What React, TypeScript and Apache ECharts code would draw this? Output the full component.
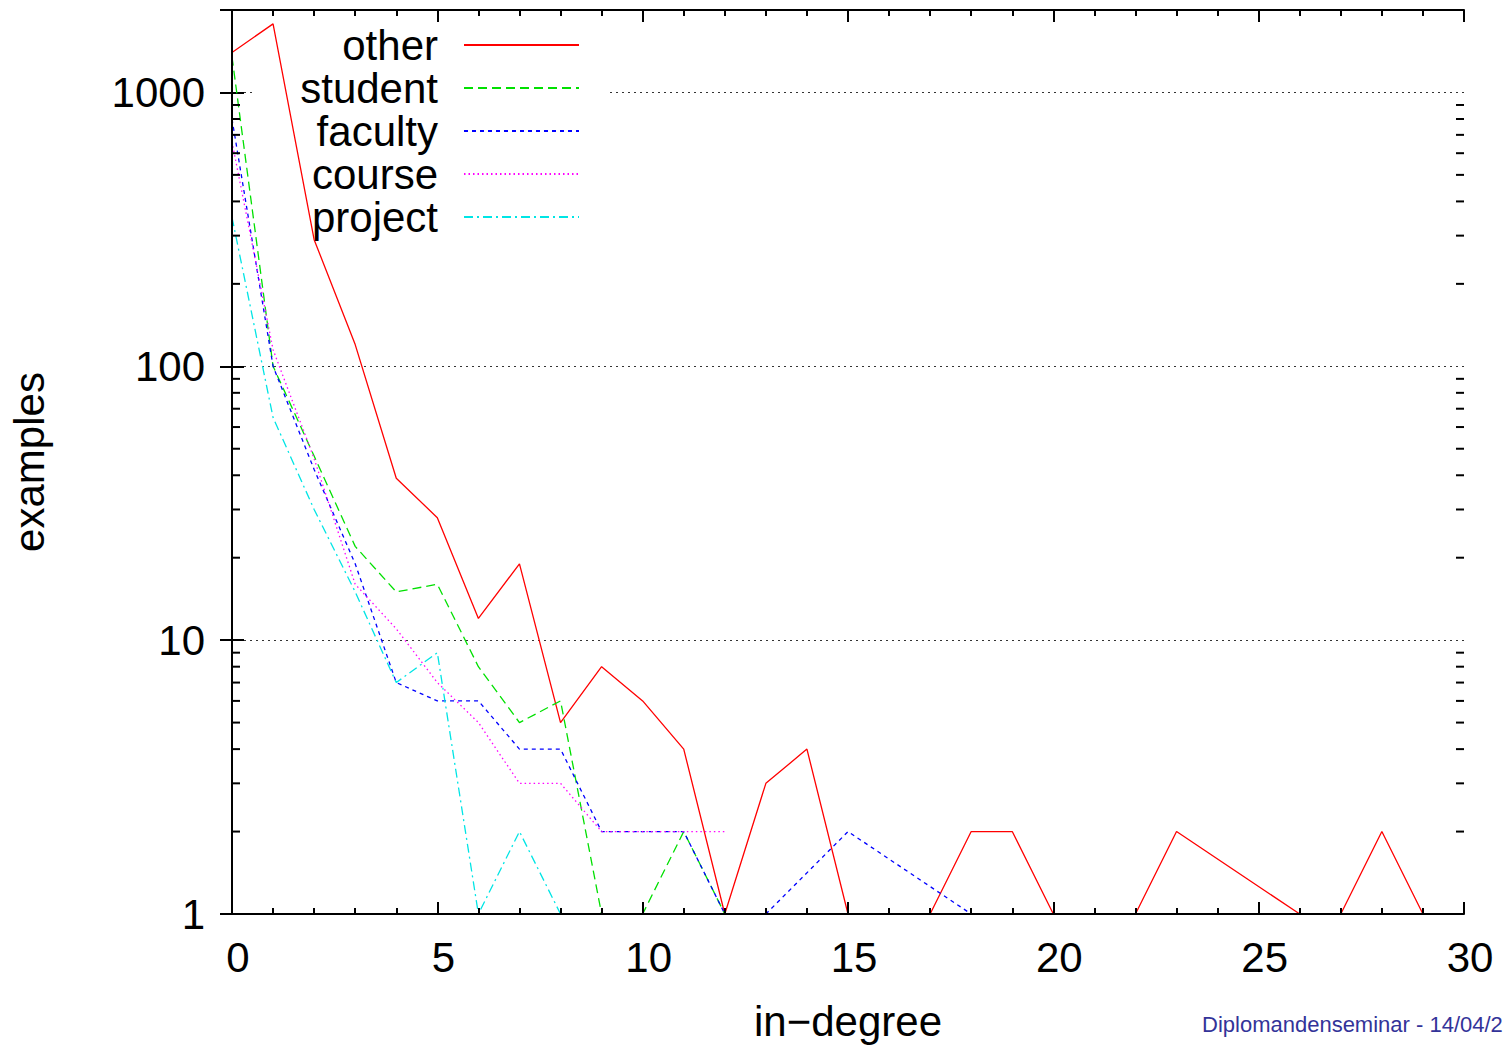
import React, { useEffect, useRef } from 'react';
import * as echarts from 'echarts';

const seriesNames = ['other', 'student', 'faculty', 'course', 'project'];
const seriesColors = ['#ff0000', '#00e000', '#0000ff', '#ff00ff', '#00e5e5'];

const otherDegree = [0, 1, 2, 3, 4, 5, 6, 7, 8, 9, 10, 11, 12, 13, 14, 15, 17, 18, 19, 20, 22, 23, 26, 27, 28, 29];
const otherCount = [1400, 1780, 290, 120, 39, 28, 12, 19, 5, 8, 6, 4, 1, 3, 4, 1, 1, 2, 2, 1, 1, 2, 1, 1, 2, 1];

const studentDegree = [0, 1, 2, 3, 4, 5, 6, 7, 8, 9, 10, 11, 12];
const studentCount = [1350, 100, 47, 22, 15, 16, 8, 5, 6, 1, 1, 2, 1];

const facultyDegree = [0, 1, 2, 3, 4, 5, 6, 7, 8, 9, 10, 11, 12, 13, 15, 18];
const facultyCount = [800, 100, 42, 19, 7, 6, 6, 4, 4, 2, 2, 2, 1, 1, 2, 1];

const courseDegree = [0, 1, 2, 3, 4, 5, 6, 7, 8, 9, 10, 11, 12];
const courseCount = [660, 115, 46, 16, 11, 7, 5, 3, 3, 2, 2, 2, 2];

const projectDegree = [0, 1, 2, 3, 4, 5, 6, 7, 8];
const projectCount = [350, 65, 30, 15, 7, 9, 1, 2, 1];

const xTickLabels = [0, 5, 10, 15, 20, 25, 30];
const yTickLabels = [1, 10, 100, 1000];
const yMinorTicks = [2, 3, 4, 5, 6, 7, 8, 9, 20, 30, 40, 50, 60, 70, 80, 90, 200, 300, 400, 500, 600, 700, 800, 900];

const FONT = '"Liberation Sans", Arial, Helvetica, sans-serif';

export default function App() {
  const ref = useRef<HTMLDivElement>(null);
  useEffect(() => {
    const chart = echarts.init(ref.current!, null, { renderer: 'svg' });
    const pairs = (xs: number[], ys: number[]) => xs.map((x, i) => [x, ys[i]]);
    const allData = [
      pairs(otherDegree, otherCount),
      pairs(studentDegree, studentCount),
      pairs(facultyDegree, facultyCount),
      pairs(courseDegree, courseCount),
      pairs(projectDegree, projectCount),
    ];
    const dashTypes: any[] = ['solid', [9, 5], [4, 4], [1.5, 3], [9, 4, 2, 4]];
    const xMin = xTickLabels[0];
    const xMax = xTickLabels[xTickLabels.length - 1];

    const lineSeries = seriesNames.map((name, i) => ({
      name,
      type: 'line',
      data: allData[i],
      showSymbol: false,
      symbol: 'none',
      z: 2,
      lineStyle: { color: seriesColors[i], width: 1.3, type: dashTypes[i] },
      itemStyle: { color: seriesColors[i] },
    }));

    const tickStyle = { color: '#000', width: 2 };

    chart.setOption({
      animation: false,
      grid: { left: 231, right: 44, top: 10, bottom: 132 },
      legend: {
        data: seriesNames,
        orient: 'vertical',
        align: 'right',
        right: 901,
        top: 22,
        padding: [2, 27, 2, 45],
        itemGap: 1,
        itemWidth: 115,
        itemHeight: 14,
        itemStyle: { opacity: 0 },
        textStyle: { fontSize: 42, color: '#000', fontFamily: FONT, padding: [0, 21, 0, 0] },
      },
      xAxis: [
        {
          type: 'value',
          min: xMin,
          max: xMax,
          interval: 5,
          position: 'bottom',
          z: 3,
          name: 'in\u2212degree',
          nameLocation: 'middle',
          nameGap: 86,
          nameTextStyle: { fontSize: 42, color: '#000', fontFamily: FONT },
          axisLine: { show: true, lineStyle: tickStyle },
          axisTick: { show: true, inside: true, length: 12, lineStyle: tickStyle },
          minorTick: { show: true, splitNumber: 5, length: 6, lineStyle: tickStyle },
          splitLine: { show: false },
          axisLabel: {
            fontSize: 42,
            color: '#000',
            fontFamily: FONT,
            margin: 22,
            padding: [0, 0, 0, 12],
            formatter: (v: number) => (xTickLabels.includes(v) ? String(v) : ''),
          },
        },
        {
          type: 'value',
          min: xMin,
          max: xMax,
          interval: 5,
          position: 'top',
          z: 3,
          axisLine: { show: true, lineStyle: tickStyle },
          axisTick: { show: true, inside: true, length: 12, lineStyle: tickStyle },
          minorTick: { show: true, splitNumber: 5, length: 6, lineStyle: tickStyle },
          splitLine: { show: false },
          axisLabel: { show: false },
        },
      ],
      yAxis: [
        {
          type: 'log',
          logBase: 10,
          min: 1,
          max: 2000,
          position: 'left',
          z: 0,
          name: 'examples',
          nameLocation: 'middle',
          nameGap: 182,
          nameTextStyle: { fontSize: 42, color: '#000', fontFamily: FONT },
          axisLine: { show: true, lineStyle: tickStyle },
          axisTick: { show: true, inside: true, length: 12, lineStyle: tickStyle },
          splitLine: { show: true, lineStyle: { color: '#333', width: 1.2, type: [2, 4] } },
          axisLabel: {
            fontSize: 42,
            color: '#000',
            fontFamily: FONT,
            margin: 27,
            formatter: (v: number) => {
              const r = Math.round(v);
              return yTickLabels.includes(r) ? String(r) : '';
            },
          },
        },
        {
          type: 'log',
          logBase: 10,
          min: 1,
          max: 2000,
          position: 'right',
          z: 3,
          axisLine: { show: true, lineStyle: tickStyle },
          axisTick: { show: true, inside: true, length: 12, lineStyle: tickStyle },
          splitLine: { show: false },
          axisLabel: { show: false },
        },
      ],
      graphic: [
        {
          type: 'rect',
          left: 254,
          top: 22,
          z: 1,
          shape: { width: 353, height: 220 },
          style: { fill: '#fff' },
        },
        {
          type: 'text',
          left: 1202,
          top: 1013,
          z: 5,
          style: {
            text: 'Diplomandenseminar - 14/04/2',
            fontSize: 22,
            fontFamily: FONT,
            fill: '#333399',
          },
        },
      ],
      series: [
        ...lineSeries,
        {
          name: 'minorTicks',
          type: 'custom',
          z: 3,
          silent: true,
          clip: false,
          data: yMinorTicks.map((v) => [xMin, v]),
          renderItem: (params: any, api: any) => {
            const v = api.value(1);
            const l = api.coord([xMin, v]);
            const r = api.coord([xMax, v]);
            return {
              type: 'group',
              children: [
                { type: 'line', shape: { x1: l[0], y1: l[1], x2: l[0] + 8, y2: l[1] }, style: { stroke: '#000', lineWidth: 2 } },
                { type: 'line', shape: { x1: r[0] - 8, y1: r[1], x2: r[0], y2: r[1] }, style: { stroke: '#000', lineWidth: 2 } },
              ],
            };
          },
        },
      ],
    });
    return () => chart.dispose();
  }, []);
  return (
    <div
      ref={ref}
      style={{ position: 'fixed', left: 0, top: 0, width: 1508, height: 1047, background: '#fff' }}
    />
  );
}
